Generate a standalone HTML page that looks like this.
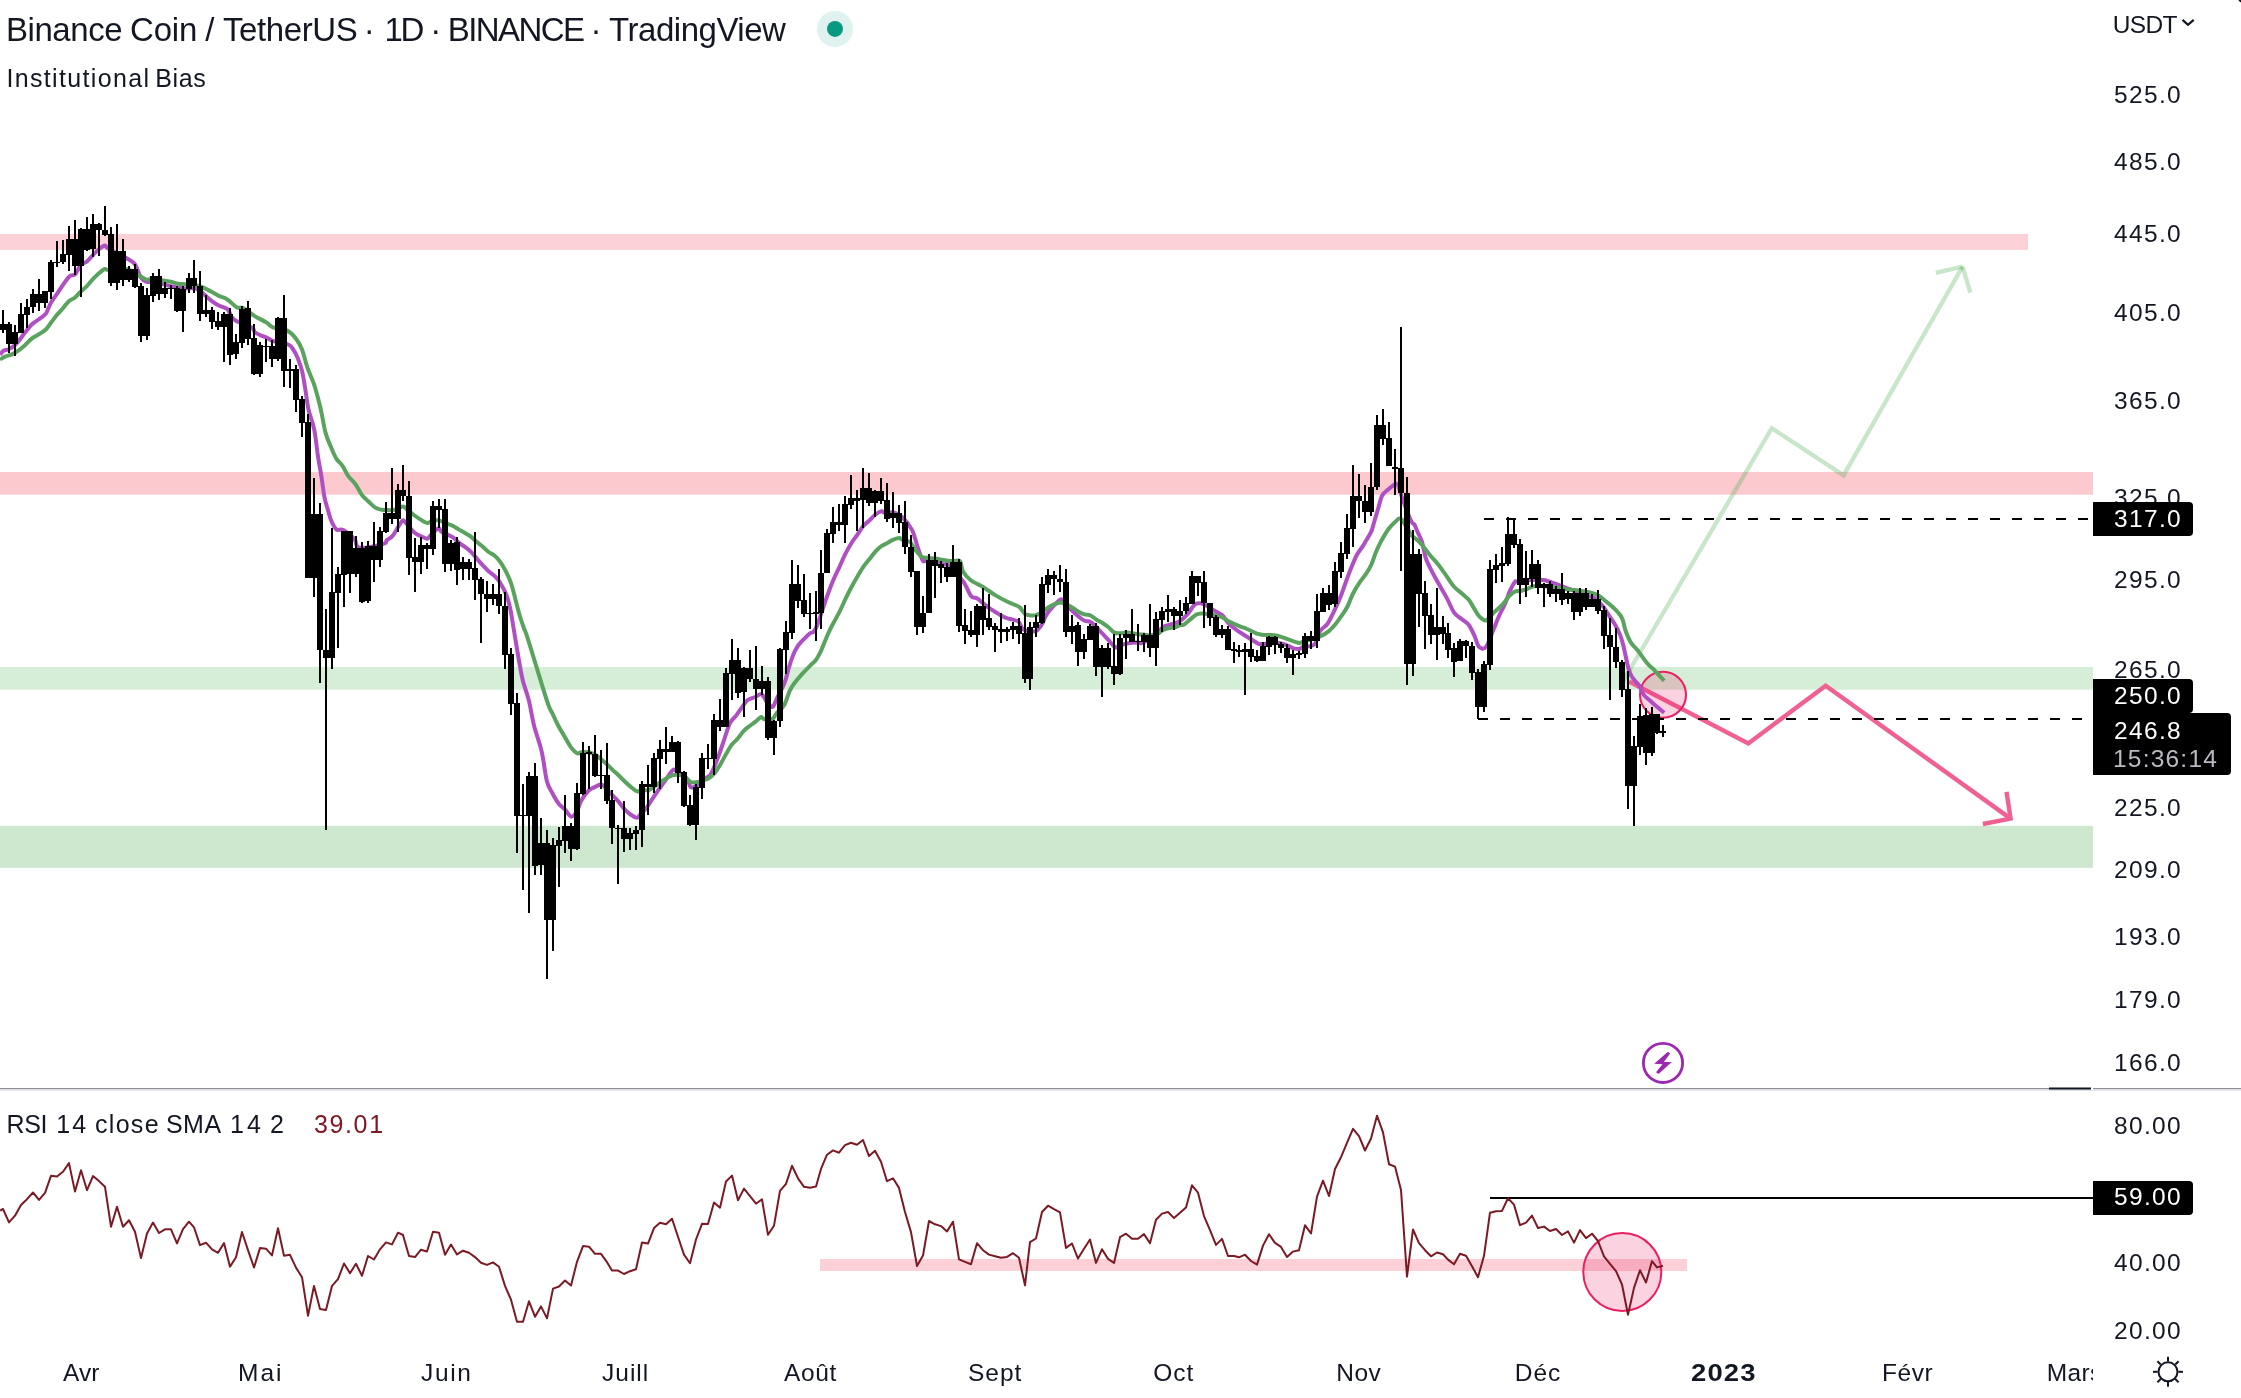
<!DOCTYPE html>
<html><head><meta charset="utf-8"><title>BNBUSDT</title>
<style>
html,body{margin:0;padding:0;background:#fff;}
body{width:2241px;height:1398px;overflow:hidden;position:relative;font-family:"Liberation Sans", sans-serif;color:#131722;}
svg{position:absolute;left:0;top:0;}
.t{position:absolute;white-space:nowrap;line-height:1;}
.ax{font-size:24.5px;letter-spacing:1.35px;left:2114px;}
.tm{font-size:24.5px;letter-spacing:0.5px;transform:translateX(-50%);top:1360px;}
.lb{position:absolute;background:#000;color:#fff;border-radius:0 4px 4px 0;left:2093px;}
</style></head><body>
<svg width="2241" height="1398" viewBox="0 0 2241 1398">

<rect x="0" y="234" width="2028" height="15.9" fill="#fbd0d6"/>
<rect x="0" y="472" width="2093" height="22.7" fill="#fbc9ce"/>
<rect x="0" y="667" width="2093" height="22.7" fill="#d6eed8"/>
<rect x="0" y="825.8" width="2093" height="42" fill="#cde8cf"/>
<rect x="820" y="1259" width="867" height="12" fill="#fbd0d6"/>
<g fill="none" stroke="rgba(76,175,80,0.31)" stroke-width="4.3" stroke-linejoin="miter" stroke-linecap="butt"><polyline points="1623.2,681 1771.8,428.2 1843.6,475.4 1962.2,267.2"/><line x1="1935.8" y1="272.9" x2="1962.6" y2="266.6"/><line x1="1970.4" y1="292.6" x2="1962.4" y2="266.4"/></g>
<g fill="none" stroke="#f06093" stroke-width="4.4" stroke-linejoin="miter"><polyline points="1629,681.5 1748.3,743.4 1825.7,685.7 2010.6,818.6"/><polyline points="2006.5,791.8 2010.6,818.6 1982.9,824"/></g>
<circle cx="1663" cy="694.8" r="23" fill="rgba(233,30,99,0.2)" stroke="#e91e63" stroke-width="2"/>
<circle cx="1622.3" cy="1272" r="39" fill="rgba(233,30,99,0.2)" stroke="#e91e63" stroke-width="2"/>
<line x1="1484" y1="519" x2="2093" y2="519" stroke="#000" stroke-width="2" stroke-dasharray="10 12"/>
<line x1="1478" y1="719" x2="2093" y2="719" stroke="#000" stroke-width="2" stroke-dasharray="10 12"/>
<path d="M0.0,354.6 C0.6,354.0 2.1,351.8 3.4,350.9 C4.7,350.0 6.4,350.2 8.0,349.5 C9.6,348.8 11.5,347.9 13.2,346.6 C14.9,345.3 16.3,343.9 18.3,341.5 C20.3,339.1 22.9,335.2 25.2,332.3 C27.5,329.4 29.7,326.5 32.0,324.3 C34.3,322.1 36.6,321.0 38.9,319.2 C41.2,317.4 44.2,315.6 45.8,313.7 C47.4,311.8 47.6,309.7 48.6,307.7 C49.6,305.7 50.2,303.8 51.5,301.7 C52.8,299.6 53.2,299.2 56.1,295.1 C59.0,291.0 65.5,280.6 68.7,277.1 C71.9,273.7 73.0,276.5 75.1,274.4 C77.1,272.3 79.0,266.8 81.0,264.7 C83.0,262.6 84.9,263.1 86.9,261.5 C88.9,259.9 90.9,257.1 92.9,255.1 C94.9,253.0 96.9,250.8 98.9,249.2 C100.9,247.6 103.2,245.5 104.8,245.4 C106.4,245.3 104.8,246.4 108.4,248.6 C112.0,250.8 122.2,255.7 126.6,258.3 C131.0,260.9 132.5,261.0 134.9,264.2 C137.3,267.4 138.9,274.7 140.9,277.6 C142.9,280.6 144.9,281.2 146.9,281.9 C148.9,282.6 149.9,281.4 152.9,281.9 C155.9,282.3 161.8,283.9 164.8,284.6 C167.8,285.3 167.9,285.6 170.8,286.2 C173.7,286.8 178.4,287.9 182.4,288.3 C186.4,288.7 191.7,287.8 194.8,288.3 C197.9,288.9 198.9,290.2 200.9,291.6 C202.9,293.0 204.9,295.2 206.9,296.9 C208.9,298.6 210.9,300.4 212.9,301.8 C214.9,303.2 216.8,304.5 218.8,305.5 C220.8,306.5 223.3,307.0 224.8,307.7 C226.3,308.4 226.8,308.1 228.0,309.7 C229.2,311.3 230.3,315.3 231.8,317.3 C233.3,319.3 235.8,320.7 237.2,321.5 C238.6,322.3 237.5,321.0 240.0,322.1 C242.5,323.2 249.6,326.2 252.1,327.9 C254.6,329.6 253.4,330.9 254.8,332.2 C256.2,333.4 258.7,334.5 260.7,335.4 C262.7,336.3 264.7,336.7 266.7,337.6 C268.7,338.5 269.1,339.7 272.7,340.8 C276.3,341.9 284.8,343.2 288.1,344.5 C291.4,345.8 290.8,346.1 292.4,348.3 C294.0,350.6 296.1,354.2 297.7,358.0 C299.3,361.8 300.7,365.6 302.0,370.8 C303.3,376.0 304.2,382.7 305.3,389.1 C306.4,395.6 307.0,402.7 308.5,409.5 C310.0,416.3 312.7,422.0 314.3,429.8 C315.9,437.6 316.8,448.8 318.0,456.5 C319.2,464.2 320.2,469.0 321.3,475.8 C322.4,482.6 323.4,491.8 324.5,497.3 C325.6,502.9 326.6,505.4 327.7,509.1 C328.8,512.9 329.5,516.4 330.9,519.8 C332.3,523.2 334.2,527.7 336.3,529.4 C338.4,531.1 340.3,528.4 343.3,530.0 C346.3,531.6 351.8,536.1 354.5,539.1 C357.2,542.1 354.6,546.9 359.4,547.7 C364.2,548.5 378.9,545.1 383.5,543.9 C388.1,542.6 385.2,541.5 386.7,540.2 C388.2,538.9 390.6,538.2 392.6,535.9 C394.6,533.6 396.9,528.8 398.6,526.2 C400.3,523.6 401.6,520.8 402.8,520.3 C404.0,519.8 404.0,520.9 406.0,523.0 C408.0,525.1 411.8,530.4 414.6,532.7 C417.4,535.0 420.6,536.0 422.7,537.0 C424.8,538.0 426.2,538.9 427.5,538.6 C428.8,538.3 428.9,537.0 430.7,535.3 C432.5,533.6 436.4,529.0 438.2,528.4 C440.0,527.8 439.6,530.5 441.4,531.6 C443.2,532.8 446.9,534.3 448.9,535.3 C450.9,536.3 451.4,536.1 453.2,537.5 C455.0,538.9 457.8,541.9 459.7,543.4 C461.6,544.9 462.8,545.3 464.6,546.6 C466.4,547.9 468.6,549.4 470.6,551.4 C472.6,553.4 474.6,556.1 476.6,558.4 C478.6,560.7 480.6,563.0 482.6,565.1 C484.6,567.2 486.6,569.5 488.6,571.3 C490.6,573.1 492.9,574.4 494.7,576.1 C496.5,577.8 497.4,578.3 499.4,581.5 C501.4,584.7 504.7,590.6 506.6,595.4 C508.5,600.2 509.5,605.2 510.6,610.4 C511.7,615.6 512.3,620.6 513.3,626.5 C514.3,632.4 515.4,639.3 516.5,645.8 C517.6,652.2 518.7,659.3 519.8,665.2 C520.9,671.1 521.5,675.3 523.0,681.2 C524.5,687.1 527.1,693.2 528.9,700.6 C530.7,708.0 531.9,717.0 534.0,725.4 C536.1,733.8 539.5,741.9 541.6,751.2 C543.8,760.5 545.1,774.2 546.9,781.2 C548.7,788.2 550.3,789.2 552.3,793.0 C554.3,796.8 556.6,801.0 558.7,803.7 C560.8,806.4 562.6,807.0 564.7,809.1 C566.8,811.2 569.1,816.2 571.1,816.6 C573.1,817.0 575.3,813.9 577.0,811.2 C578.7,808.5 579.3,804.0 581.3,800.5 C583.3,797.0 586.6,792.5 588.8,790.3 C591.0,788.1 592.7,788.1 594.7,787.1 C596.7,786.1 599.1,784.6 600.6,784.4 C602.1,784.2 602.0,784.4 603.8,786.0 C605.6,787.6 608.8,791.5 611.3,794.1 C613.8,796.7 616.3,799.1 618.5,801.6 C620.7,804.1 622.5,807.0 624.5,809.1 C626.5,811.2 628.4,813.1 630.5,814.5 C632.6,815.9 635.4,817.7 637.0,817.7 C638.6,817.7 638.9,815.9 640.3,814.5 C641.7,813.1 643.6,811.6 645.6,809.1 C647.6,806.6 650.0,802.6 652.1,799.4 C654.2,796.2 656.1,793.2 658.5,789.8 C660.9,786.4 664.0,782.3 666.3,779.1 C668.6,775.9 670.9,771.9 672.5,770.5 C674.1,769.1 673.4,769.2 675.7,770.5 C678.0,771.8 683.9,775.2 686.4,778.0 C688.9,780.8 689.1,785.8 690.7,787.1 C692.3,788.4 693.6,787.5 696.1,786.0 C698.6,784.5 703.2,780.0 705.7,778.0 C708.2,776.0 708.9,777.5 711.1,773.7 C713.3,769.9 716.6,760.9 718.8,755.3 C721.0,749.6 722.2,745.2 724.1,739.8 C726.0,734.4 727.9,727.2 730.0,723.1 C732.1,719.0 734.2,718.2 736.5,715.1 C738.8,712.0 741.9,707.1 743.8,704.6 C745.7,702.1 745.9,701.2 747.9,699.9 C749.9,698.6 753.8,697.7 755.9,696.7 C758.0,695.7 759.4,693.9 760.8,694.0 C762.1,694.1 762.9,695.9 764.0,697.3 C765.1,698.7 765.8,701.0 767.2,702.6 C768.6,704.2 771.0,707.6 772.6,706.9 C774.2,706.2 774.9,702.2 776.9,698.3 C778.9,694.4 782.4,688.3 784.4,683.3 C786.4,678.3 787.3,672.9 788.7,668.3 C790.1,663.6 791.6,659.0 793.0,655.4 C794.4,651.8 795.5,649.5 797.3,646.8 C799.1,644.1 801.6,641.5 803.7,639.3 C805.8,637.1 807.7,635.2 809.7,633.4 C811.7,631.6 813.0,634.4 815.7,628.6 C818.5,622.8 823.4,606.6 826.2,598.8 C829.0,591.0 830.5,587.0 832.7,581.6 C834.9,576.2 837.5,571.2 839.6,566.6 C841.7,562.0 843.5,557.6 845.5,553.7 C847.5,549.8 849.5,546.2 851.5,543.0 C853.5,539.8 855.6,537.3 857.6,534.4 C859.6,531.5 861.5,528.1 863.5,525.8 C865.5,523.5 867.5,522.3 869.5,520.4 C871.5,518.5 873.5,516.0 875.5,514.5 C877.5,513.0 879.8,511.6 881.4,511.3 C883.0,511.0 883.1,512.7 885.2,512.9 C887.3,513.1 890.9,511.7 893.8,512.4 C896.7,513.1 899.3,514.2 902.4,517.2 C905.5,520.2 909.8,525.8 912.1,530.1 C914.4,534.4 915.0,538.7 916.4,543.0 C917.8,547.3 919.5,552.8 920.6,555.8 C921.8,558.8 922.3,560.3 923.3,561.2 C924.3,562.1 923.9,560.6 926.5,561.0 C929.1,561.4 935.9,562.7 938.9,563.3 C941.9,563.9 942.6,564.1 944.2,564.4 C945.9,564.7 945.7,562.5 948.8,565.3 C951.9,568.1 959.3,576.0 963.0,581.1 C966.7,586.2 968.8,593.2 971.1,596.1 C973.4,599.0 975.0,597.1 977.0,598.3 C979.0,599.5 981.0,601.5 983.0,603.1 C985.0,604.7 987.0,606.5 989.0,607.9 C991.0,609.3 993.0,610.4 995.0,611.7 C997.0,613.0 998.9,614.4 1000.9,615.5 C1002.9,616.6 1004.9,617.4 1006.9,618.1 C1008.9,618.8 1010.9,619.1 1012.9,619.7 C1014.9,620.3 1017.1,620.3 1018.8,621.9 C1020.5,623.5 1020.6,627.8 1023.1,629.4 C1025.6,631.0 1031.3,631.5 1033.8,631.5 C1036.3,631.5 1036.6,630.8 1038.1,629.4 C1039.6,628.0 1041.3,625.5 1042.7,623.0 C1044.1,620.5 1044.7,617.4 1046.7,614.4 C1048.7,611.4 1052.4,607.2 1054.7,604.7 C1057.0,602.2 1059.2,599.8 1060.7,599.4 C1062.2,599.0 1062.1,600.8 1063.9,602.6 C1065.7,604.4 1069.0,607.8 1071.4,610.1 C1073.9,612.4 1076.4,614.7 1078.6,616.5 C1080.8,618.3 1082.6,619.9 1084.6,620.8 C1086.6,621.7 1088.6,620.8 1090.6,621.9 C1092.6,623.0 1094.5,625.3 1096.5,627.3 C1098.5,629.3 1100.5,631.6 1102.5,633.7 C1104.5,635.8 1106.5,638.0 1108.5,640.1 C1110.5,642.2 1112.9,645.4 1114.4,646.6 C1115.9,647.8 1115.7,647.6 1117.5,647.1 C1119.3,646.6 1122.5,644.6 1125.0,643.9 C1127.5,643.2 1130.1,643.0 1132.3,642.8 C1134.5,642.6 1136.3,642.6 1138.3,642.5 C1140.3,642.4 1140.4,644.6 1144.4,642.1 C1148.4,639.6 1158.3,630.6 1162.3,627.8 C1166.3,625.0 1166.1,625.9 1168.2,625.1 C1170.3,624.4 1172.9,624.1 1175.1,623.3 C1177.3,622.5 1179.1,621.8 1181.3,620.1 C1183.5,618.4 1186.2,615.6 1188.4,613.1 C1190.6,610.6 1192.4,606.5 1194.2,604.9 C1196.0,603.3 1197.4,603.4 1199.1,603.3 C1200.8,603.2 1201.5,603.1 1204.1,604.4 C1206.7,605.6 1211.6,609.0 1214.6,610.8 C1217.6,612.6 1219.9,613.1 1222.1,615.1 C1224.3,617.1 1225.9,620.5 1227.9,622.6 C1229.9,624.8 1231.9,626.4 1233.9,628.0 C1235.9,629.6 1237.9,631.0 1239.9,632.3 C1241.9,633.6 1243.8,634.8 1245.8,636.0 C1247.8,637.2 1249.9,638.5 1251.9,639.8 C1253.9,641.0 1256.2,642.8 1257.9,643.5 C1259.6,644.2 1258.3,644.2 1261.8,644.1 C1265.3,644.0 1274.7,642.7 1279.0,643.0 C1283.3,643.3 1285.2,644.8 1287.7,645.7 C1290.2,646.6 1291.7,647.9 1293.7,648.4 C1295.7,648.9 1298.2,649.1 1299.7,648.9 C1301.2,648.7 1300.6,647.8 1302.6,647.3 C1304.6,646.8 1309.4,646.4 1311.6,645.7 C1313.8,645.0 1314.1,645.5 1315.5,643.0 C1316.9,640.5 1318.2,634.2 1320.2,631.0 C1322.2,627.8 1325.2,627.0 1327.4,624.0 C1329.6,621.0 1331.2,617.0 1333.3,612.8 C1335.3,608.6 1337.7,603.8 1339.7,598.8 C1341.8,593.8 1343.7,587.8 1345.6,582.7 C1347.5,577.6 1349.1,572.9 1351.0,568.3 C1352.9,563.6 1355.0,558.4 1356.9,554.8 C1358.9,551.1 1361.2,548.8 1362.7,546.4 C1364.2,544.0 1364.6,543.2 1366.1,540.6 C1367.6,538.0 1370.1,534.3 1371.5,530.9 C1372.9,527.5 1373.6,523.8 1374.7,520.2 C1375.8,516.6 1376.7,513.5 1377.9,509.4 C1379.2,505.3 1380.4,498.9 1382.2,495.5 C1384.0,492.1 1386.5,491.0 1388.7,489.1 C1390.9,487.2 1393.7,484.8 1395.3,484.2 C1396.9,483.6 1397.0,483.0 1398.3,485.8 C1399.6,488.6 1401.0,495.0 1403.2,500.9 C1405.4,506.8 1409.3,517.3 1411.2,521.2 C1413.1,525.1 1413.3,522.7 1414.4,524.5 C1415.5,526.3 1416.3,529.1 1417.6,532.0 C1418.8,534.9 1420.6,537.3 1421.9,541.6 C1423.2,545.9 1424.3,553.4 1425.7,557.9 C1427.1,562.4 1428.5,564.5 1430.5,568.6 C1432.5,572.7 1435.3,577.8 1438.0,582.6 C1440.7,587.4 1443.9,592.6 1446.6,597.6 C1449.3,602.6 1451.6,609.0 1454.1,612.6 C1456.6,616.2 1459.1,616.9 1461.6,619.0 C1464.1,621.1 1466.9,622.4 1469.0,625.2 C1471.1,628.0 1472.7,632.1 1474.4,635.7 C1476.1,639.3 1477.2,645.2 1479.2,647.0 C1481.2,648.8 1483.7,649.7 1486.1,646.7 C1488.5,643.7 1491.7,633.7 1493.7,629.0 C1495.7,624.3 1496.5,621.8 1498.0,618.3 C1499.5,614.8 1501.6,610.8 1502.8,608.3 C1504.0,605.8 1504.2,605.9 1505.4,603.0 C1506.6,600.1 1508.2,594.7 1509.8,591.2 C1511.4,587.7 1513.6,583.6 1514.9,582.0 C1516.2,580.4 1514.5,581.9 1517.4,581.5 C1520.4,581.1 1528.2,580.2 1532.6,579.9 C1537.0,579.6 1541.1,579.7 1543.6,579.9 C1546.0,580.1 1546.1,580.6 1547.3,581.0 C1548.5,581.4 1549.5,581.6 1550.6,582.0 C1551.7,582.4 1552.1,582.6 1553.7,583.2 C1555.3,583.8 1557.9,584.7 1560.1,585.5 C1562.2,586.3 1561.6,586.1 1566.6,588.0 C1571.6,589.9 1585.5,594.9 1590.2,596.6 C1594.9,598.3 1592.4,596.6 1594.5,598.2 C1596.6,599.8 1600.7,603.5 1603.0,606.2 C1605.3,609.0 1606.4,611.7 1608.4,614.7 C1610.4,617.7 1612.8,620.9 1614.8,624.3 C1616.8,627.7 1618.8,631.5 1620.2,635.1 C1621.6,638.7 1622.1,640.4 1623.4,645.8 C1624.7,651.2 1626.9,662.5 1628.2,667.5 C1629.5,672.5 1630.3,673.9 1631.5,676.1 C1632.7,678.3 1633.8,679.1 1635.2,680.9 C1636.6,682.7 1638.6,684.5 1640.0,686.8 C1641.4,689.1 1642.0,692.5 1643.8,694.9 C1645.6,697.3 1648.8,699.4 1650.8,701.3 C1652.8,703.2 1653.9,704.2 1656.1,706.1 C1658.3,708.0 1662.8,711.7 1664.2,712.8" fill="none" stroke="#b04fc4" stroke-width="4" stroke-linejoin="round" stroke-linecap="butt"/>
<path d="M0.0,359.5 C1.0,359.0 3.8,357.2 5.7,356.4 C7.6,355.6 9.3,355.6 11.4,354.6 C13.5,353.6 16.0,352.2 18.3,350.6 C20.6,349.0 22.9,346.9 25.2,344.9 C27.5,342.8 29.7,340.1 32.0,338.3 C34.3,336.5 36.6,335.8 38.9,334.3 C41.2,332.8 43.7,331.6 45.8,329.5 C47.9,327.4 49.6,324.5 51.5,322.0 C53.4,319.5 55.3,316.9 57.2,314.6 C59.1,312.3 61.0,310.5 62.9,308.3 C64.8,306.1 66.7,303.1 68.6,301.4 C70.5,299.7 72.5,299.5 74.4,298.0 C76.3,296.5 78.0,294.3 80.1,292.3 C82.2,290.3 84.8,288.4 86.9,286.2 C89.0,284.0 90.9,281.3 92.9,279.2 C94.9,277.1 96.9,275.0 98.9,273.3 C100.9,271.6 103.2,269.5 104.8,269.0 C106.4,268.5 104.8,270.1 108.4,270.1 C112.0,270.1 121.2,267.9 126.6,269.0 C132.0,270.1 137.5,274.7 140.9,276.5 C144.3,278.3 144.9,279.4 146.9,279.8 C148.9,280.2 149.9,278.5 152.9,278.7 C155.9,278.9 161.8,280.3 164.8,280.8 C167.8,281.3 168.8,281.2 170.8,281.7 C172.8,282.1 174.8,283.1 176.8,283.5 C178.8,283.9 179.8,283.8 182.8,284.1 C185.8,284.4 191.8,284.7 194.8,285.1 C197.8,285.5 198.9,286.0 200.9,286.7 C202.9,287.4 204.9,288.4 206.9,289.4 C208.9,290.4 210.9,291.5 212.9,292.6 C214.9,293.7 216.8,295.0 218.8,295.9 C220.8,296.8 223.3,297.3 224.8,298.0 C226.3,298.7 227.0,299.3 228.0,300.0 C229.0,300.7 229.4,301.1 230.8,302.3 C232.2,303.5 235.2,306.4 236.7,307.3 C238.2,308.2 238.9,307.6 240.0,307.7 C241.1,307.8 240.5,306.7 243.0,308.1 C245.5,309.5 250.9,313.7 254.8,316.1 C258.7,318.5 263.6,320.7 266.6,322.6 C269.7,324.5 269.5,326.0 273.1,327.4 C276.7,328.8 284.2,329.1 288.1,331.1 C292.0,333.2 294.4,336.6 296.7,339.7 C299.0,342.8 300.2,344.8 302.0,349.4 C303.8,354.0 305.4,361.9 307.4,367.6 C309.4,373.3 311.6,377.1 313.8,383.7 C316.0,390.3 318.3,399.1 320.3,407.3 C322.3,415.5 323.8,426.3 325.6,432.9 C327.4,439.5 329.1,442.5 330.9,446.8 C332.7,451.1 334.3,455.4 336.3,458.6 C338.3,461.8 340.7,463.2 342.7,466.1 C344.7,469.0 346.0,472.8 348.1,475.8 C350.2,478.9 353.3,481.2 355.6,484.4 C357.9,487.6 359.9,492.2 362.0,495.1 C364.1,498.0 366.4,499.4 368.5,501.5 C370.6,503.6 372.8,506.0 374.9,507.4 C377.0,508.8 378.8,509.2 380.9,509.6 C383.0,510.1 385.6,510.1 387.8,510.1 C390.0,510.2 391.7,510.5 394.2,509.9 C396.7,509.3 400.6,506.4 402.8,506.4 C405.0,506.3 405.1,508.1 407.1,509.6 C409.1,511.1 412.0,513.6 414.6,515.5 C417.2,517.4 420.6,519.6 422.7,520.9 C424.8,522.1 426.0,523.0 427.5,523.0 C429.0,523.0 430.0,521.4 431.8,520.9 C433.6,520.4 435.7,519.9 438.2,520.3 C440.7,520.7 444.2,522.6 446.6,523.5 C449.0,524.4 450.6,524.7 452.6,525.7 C454.6,526.7 456.6,528.2 458.6,529.4 C460.6,530.6 462.6,531.5 464.6,532.7 C466.6,533.9 468.6,534.9 470.6,536.4 C472.6,537.9 474.6,540.1 476.6,541.8 C478.6,543.5 480.6,544.9 482.6,546.6 C484.6,548.3 486.6,550.5 488.6,552.0 C490.6,553.5 492.7,554.0 494.7,555.7 C496.7,557.4 498.6,559.5 500.6,562.4 C502.6,565.3 504.8,569.4 506.6,572.9 C508.4,576.4 509.7,579.1 511.2,583.6 C512.7,588.1 514.1,594.3 515.5,599.7 C516.9,605.1 518.4,611.0 519.8,615.8 C521.2,620.6 522.7,624.8 524.1,628.7 C525.5,632.6 524.2,627.4 528.0,639.4 C531.8,651.4 542.9,688.4 546.9,700.7 C550.9,713.0 550.3,708.8 552.3,713.1 C554.3,717.4 556.6,722.6 558.7,726.5 C560.8,730.4 562.7,733.3 564.7,736.7 C566.7,740.1 568.7,744.1 570.7,746.9 C572.8,749.7 575.2,752.4 577.0,753.3 C578.8,754.2 579.3,752.4 581.3,752.2 C583.3,752.0 586.6,751.8 588.8,752.2 C591.0,752.6 592.7,753.3 594.7,754.4 C596.7,755.5 598.6,757.1 600.6,758.7 C602.6,760.3 604.6,762.1 606.6,764.0 C608.6,765.9 610.6,768.0 612.6,769.9 C614.6,771.8 616.5,773.4 618.5,775.3 C620.5,777.2 622.5,779.3 624.5,781.2 C626.5,783.1 628.4,784.9 630.5,786.6 C632.6,788.3 635.0,790.9 637.0,791.4 C639.0,791.9 640.5,790.0 642.4,789.8 C644.3,789.6 646.4,790.8 648.4,790.3 C650.4,789.8 652.3,787.9 654.3,786.6 C656.3,785.3 658.3,783.6 660.3,782.3 C662.3,780.9 664.3,779.7 666.3,778.5 C668.3,777.3 670.2,775.9 672.2,775.3 C674.2,774.7 676.2,774.6 678.2,774.8 C680.2,775.0 682.3,775.2 684.3,776.4 C686.3,777.5 688.3,780.7 690.3,781.7 C692.3,782.7 694.2,782.5 696.2,782.3 C698.2,782.1 700.2,781.3 702.2,780.7 C704.2,780.1 706.2,779.7 708.2,778.5 C710.2,777.3 712.1,776.0 714.1,773.7 C716.1,771.5 718.1,768.1 720.0,765.0 C721.9,761.9 723.8,758.1 725.7,754.8 C727.6,751.5 729.4,747.8 731.4,745.1 C733.4,742.4 735.5,741.1 737.6,738.7 C739.7,736.3 741.7,733.1 743.8,730.9 C745.9,728.7 748.0,727.3 750.0,725.7 C752.0,724.1 754.1,722.8 755.9,721.4 C757.7,720.0 759.4,717.5 760.8,717.1 C762.2,716.7 762.5,718.9 764.5,719.2 C766.5,719.5 770.5,719.8 772.6,718.7 C774.7,717.6 774.9,715.1 776.9,712.8 C778.9,710.5 782.3,708.5 784.4,704.8 C786.5,701.1 787.9,694.6 789.7,690.8 C791.5,687.0 793.1,684.9 795.1,682.2 C797.1,679.5 799.1,677.4 801.5,674.7 C803.9,672.0 807.3,668.5 809.7,666.1 C812.1,663.7 813.8,662.7 815.7,660.2 C817.6,657.7 819.1,654.8 820.9,651.1 C822.6,647.4 824.4,642.3 826.2,638.2 C828.0,634.1 829.4,630.8 831.6,626.4 C833.8,622.0 837.3,616.2 839.6,611.6 C841.9,607.0 843.5,602.9 845.5,598.8 C847.5,594.7 849.5,590.8 851.5,587.0 C853.5,583.2 855.6,579.6 857.6,576.2 C859.6,572.8 861.5,569.5 863.5,566.6 C865.5,563.8 867.5,561.6 869.5,559.1 C871.5,556.6 873.5,553.6 875.5,551.5 C877.5,549.4 879.4,547.6 881.4,546.2 C883.4,544.8 885.4,544.1 887.4,543.0 C889.4,541.9 891.4,540.5 893.4,539.7 C895.4,538.9 897.8,538.1 899.3,538.1 C900.8,538.1 900.6,539.1 902.4,539.7 C904.2,540.3 907.9,540.5 909.9,541.9 C911.9,543.3 912.6,546.1 914.2,548.3 C915.8,550.4 918.1,553.3 919.6,554.8 C921.1,556.3 921.7,556.9 923.3,557.4 C924.9,557.9 927.2,557.8 929.2,558.0 C931.2,558.2 933.2,558.2 935.2,558.5 C937.2,558.8 939.0,559.2 941.1,559.6 C943.2,560.0 945.6,560.5 947.6,560.7 C949.6,560.9 951.2,560.9 953.3,561.0 C955.4,561.1 958.4,559.5 960.0,561.2 C961.6,563.0 961.2,568.4 963.0,571.5 C964.8,574.6 967.2,577.4 970.5,580.0 C973.8,582.6 978.9,584.5 983.0,587.0 C987.1,589.5 991.2,592.7 995.2,595.1 C999.2,597.5 1003.8,599.9 1007.0,601.5 C1010.2,603.1 1012.4,603.7 1014.5,604.7 C1016.6,605.7 1018.2,605.9 1019.9,607.4 C1021.6,608.9 1023.0,612.4 1024.8,613.8 C1026.6,615.1 1028.8,615.3 1030.8,615.5 C1032.8,615.7 1035.0,615.4 1036.7,614.9 C1038.5,614.4 1039.6,613.9 1041.3,612.8 C1043.0,611.7 1044.5,609.9 1046.7,608.5 C1048.9,607.1 1052.4,605.2 1054.7,604.2 C1057.0,603.2 1059.2,602.7 1060.7,602.6 C1062.2,602.5 1062.1,602.9 1063.9,603.6 C1065.7,604.3 1069.0,605.5 1071.4,606.9 C1073.9,608.2 1076.4,610.5 1078.6,611.7 C1080.8,613.0 1082.6,613.8 1084.6,614.4 C1086.6,615.0 1088.6,614.6 1090.6,615.5 C1092.6,616.4 1094.5,618.5 1096.5,619.7 C1098.5,621.0 1100.5,621.7 1102.5,623.0 C1104.5,624.3 1106.5,625.7 1108.5,627.3 C1110.5,628.9 1112.4,631.6 1114.4,632.6 C1116.4,633.6 1118.4,633.2 1120.4,633.2 C1122.4,633.2 1124.4,632.6 1126.4,632.6 C1128.4,632.6 1130.3,632.9 1132.3,633.2 C1134.3,633.5 1136.3,633.9 1138.3,634.2 C1140.3,634.5 1142.4,634.6 1144.4,634.8 C1146.4,635.0 1148.3,635.3 1150.3,635.3 C1152.3,635.3 1154.3,635.6 1156.3,634.8 C1158.3,634.0 1160.3,631.6 1162.3,630.5 C1164.3,629.4 1166.1,628.8 1168.2,628.3 C1170.3,627.8 1173.1,627.8 1175.1,627.3 C1177.1,626.8 1178.8,625.5 1180.2,625.1 C1181.6,624.7 1182.0,625.6 1183.5,624.8 C1185.0,624.0 1186.8,622.1 1189.0,620.4 C1191.2,618.7 1194.3,615.8 1196.4,614.6 C1198.5,613.5 1200.0,613.6 1201.8,613.5 C1203.6,613.4 1205.0,613.7 1207.1,614.0 C1209.2,614.3 1212.1,614.6 1214.6,615.1 C1217.1,615.6 1219.9,616.3 1222.1,617.3 C1224.3,618.3 1225.9,619.9 1227.9,621.0 C1229.9,622.1 1231.9,622.8 1233.9,623.7 C1235.9,624.6 1237.9,625.6 1239.9,626.4 C1241.9,627.2 1243.8,627.7 1245.8,628.5 C1247.8,629.3 1249.9,630.3 1251.9,631.2 C1253.9,632.1 1255.9,633.3 1257.9,633.9 C1259.9,634.5 1261.8,634.8 1263.8,635.0 C1265.8,635.2 1267.8,634.9 1269.8,635.0 C1271.8,635.1 1273.8,635.1 1275.8,635.5 C1277.8,635.9 1279.8,636.5 1281.8,637.1 C1283.8,637.7 1285.7,638.5 1287.7,639.2 C1289.7,639.9 1291.7,640.8 1293.7,641.4 C1295.7,642.0 1298.2,642.9 1299.7,643.0 C1301.2,643.1 1299.2,643.0 1302.6,641.9 C1306.0,640.8 1315.8,638.2 1320.2,636.4 C1324.6,634.6 1326.4,633.1 1329.0,631.0 C1331.6,628.9 1333.5,626.6 1335.8,623.8 C1338.0,621.0 1340.5,617.3 1342.5,614.4 C1344.5,611.5 1345.8,609.9 1347.5,606.5 C1349.2,603.1 1350.8,598.0 1352.8,594.0 C1354.8,590.0 1357.3,586.0 1359.5,582.7 C1361.7,579.4 1363.8,577.2 1365.8,574.2 C1367.8,571.2 1369.8,568.1 1371.4,564.5 C1373.1,560.9 1374.1,556.6 1375.7,552.7 C1377.3,548.9 1378.8,545.4 1381.0,541.4 C1383.2,537.4 1386.3,532.1 1388.7,528.8 C1391.1,525.5 1393.2,523.4 1395.3,521.8 C1397.4,520.2 1398.5,517.0 1401.2,519.1 C1403.9,521.2 1408.6,531.3 1411.2,534.7 C1413.8,538.1 1414.8,537.8 1416.6,539.5 C1418.4,541.2 1419.6,542.1 1421.9,544.8 C1424.2,547.5 1427.8,552.5 1430.5,555.7 C1433.2,559.0 1435.3,560.9 1438.0,564.3 C1440.7,567.7 1443.9,572.4 1446.6,576.1 C1449.3,579.9 1451.6,583.9 1454.1,586.8 C1456.6,589.7 1459.1,591.1 1461.6,593.3 C1464.1,595.5 1466.9,597.4 1469.0,600.0 C1471.1,602.6 1472.6,606.1 1474.4,608.9 C1476.2,611.7 1477.8,615.0 1479.8,616.9 C1481.8,618.8 1483.9,621.0 1486.2,620.3 C1488.5,619.6 1491.2,615.0 1493.7,612.6 C1496.2,610.2 1499.2,607.9 1501.2,605.9 C1503.2,603.9 1504.4,602.3 1505.6,600.8 C1506.8,599.2 1507.5,597.9 1508.6,596.6 C1509.7,595.4 1510.9,594.2 1512.1,593.3 C1513.3,592.4 1514.1,591.6 1515.7,591.2 C1517.3,590.8 1519.6,591.1 1521.5,590.7 C1523.4,590.3 1525.3,589.5 1527.3,588.8 C1529.3,588.1 1531.2,586.8 1533.5,586.3 C1535.8,585.8 1538.0,585.7 1540.8,585.8 C1543.6,585.9 1547.8,586.8 1550.3,587.1 C1552.8,587.4 1554.1,587.2 1555.9,587.4 C1557.7,587.5 1559.0,587.6 1561.0,588.0 C1563.0,588.4 1565.8,589.3 1567.9,589.6 C1570.1,589.9 1571.9,589.7 1573.9,589.9 C1575.9,590.1 1577.9,590.4 1579.9,590.7 C1581.9,591.0 1583.9,591.4 1585.9,591.7 C1587.9,592.1 1589.7,592.2 1591.8,592.8 C1593.9,593.4 1596.2,594.2 1598.4,595.5 C1600.6,596.8 1602.6,598.7 1604.8,600.5 C1607.0,602.3 1609.4,604.1 1611.6,606.1 C1613.8,608.1 1616.3,610.4 1618.1,612.5 C1619.9,614.6 1621.2,616.0 1622.4,619.0 C1623.7,622.0 1624.2,626.9 1625.6,630.8 C1627.0,634.7 1628.9,639.4 1630.9,642.6 C1632.9,645.8 1634.6,646.6 1637.4,650.1 C1640.2,653.6 1645.0,660.7 1647.6,663.8 C1650.2,666.9 1651.1,666.8 1652.9,668.6 C1654.7,670.4 1656.4,672.5 1658.3,674.5 C1660.2,676.5 1663.2,679.7 1664.2,680.7" fill="none" stroke="#5aa35f" stroke-width="4" stroke-linejoin="round" stroke-linecap="butt"/>
<path d="M2.0,310.3h2V333.4h-2zM0.0,324.3h6V329.7h-6zM8.0,322.0h2V352.6h-2zM6.0,324.2h6V344.0h-6zM14.0,325.3h2V355.8h-2zM12.0,332.2h6V344.0h-6zM20.0,303.4h2V333.4h-2zM18.0,314.1h6V332.9h-6zM26.0,299.3h2V327.5h-2zM24.0,306.6h6V314.6h-6zM32.0,289.4h2V312.5h-2zM30.0,294.2h6V306.6h-6zM38.0,279.2h2V311.4h-2zM36.0,294.2h6V302.8h-6zM44.0,290.5h2V307.7h-2zM42.0,291.0h6V302.8h-6zM50.0,260.2h2V298.5h-2zM48.0,262.1h6V291.6h-6zM56.0,241.4h2V266.7h-2zM54.0,261.5h6V263.1h-6zM62.0,240.3h2V263.7h-2zM60.0,254.2h6V262.4h-6zM68.0,226.3h2V270.6h-2zM66.0,239.2h6V254.5h-6zM74.0,220.3h2V274.6h-2zM72.0,239.2h6V265.8h-6zM80.0,228.3h2V296.7h-2zM78.0,229.1h6V265.8h-6zM86.0,217.3h2V251.3h-2zM84.0,229.1h6V249.7h-6zM92.0,214.3h2V257.4h-2zM90.0,224.2h6V248.6h-6zM98.0,223.1h2V255.6h-2zM96.0,224.2h6V229.5h-6zM104.0,206.2h2V235.8h-2zM102.0,229.5h6V234.7h-6zM110.0,227.2h2V285.7h-2zM108.0,234.2h6V283.0h-6zM116.0,224.2h2V289.6h-2zM114.0,251.0h6V283.0h-6zM122.0,239.2h2V285.7h-2zM120.0,251.0h6V279.8h-6zM128.0,266.4h2V282.4h-2zM126.0,269.0h6V279.8h-6zM134.0,264.2h2V287.8h-2zM132.0,269.0h6V286.7h-6zM140.0,283.2h2V341.5h-2zM138.0,286.2h6V335.6h-6zM146.0,288.3h2V339.6h-2zM144.0,295.3h6V335.6h-6zM152.0,273.3h2V301.5h-2zM150.0,276.3h6V295.9h-6zM158.0,269.2h2V299.6h-2zM156.0,276.3h6V293.7h-6zM164.0,282.4h2V297.5h-2zM162.0,288.3h6V293.7h-6zM170.0,284.6h2V298.5h-2zM168.0,288.3h6V289.4h-6zM176.0,286.2h2V312.0h-2zM174.0,288.3h6V311.1h-6zM182.0,286.2h2V331.8h-2zM180.0,289.4h6V310.9h-6zM188.0,273.3h2V292.6h-2zM186.0,278.2h6V289.4h-6zM193.0,260.1h2V292.6h-2zM191.0,278.2h6V286.2h-6zM199.0,271.2h2V320.5h-2zM197.0,286.2h6V313.6h-6zM205.0,295.3h2V316.8h-2zM203.0,310.3h6V313.9h-6zM211.0,307.1h2V328.6h-2zM209.0,310.3h6V321.6h-6zM217.0,312.2h2V329.7h-2zM215.0,321.4h6V326.8h-6zM223.0,312.1h2V361.7h-2zM221.0,314.0h6V326.7h-6zM229.0,308.1h2V364.9h-2zM227.0,314.0h6V354.7h-6zM235.0,334.1h2V358.8h-2zM233.0,342.4h6V353.7h-6zM241.0,306.2h2V347.8h-2zM239.0,309.1h6V342.9h-6zM247.0,301.1h2V344.9h-2zM245.0,308.1h6V338.6h-6zM253.0,324.2h2V374.9h-2zM251.0,338.1h6V374.1h-6zM259.0,342.2h2V377.1h-2zM257.0,345.1h6V373.8h-6zM265.0,339.2h2V361.7h-2zM263.0,345.6h6V347.0h-6zM271.0,340.3h2V366.8h-2zM269.0,346.2h6V359.0h-6zM277.0,317.0h2V361.0h-2zM275.0,318.0h6V359.0h-6zM283.0,295.2h2V386.7h-2zM281.0,318.0h6V370.8h-6zM289.0,359.0h2V387.8h-2zM287.0,369.2h6V370.8h-6zM295.0,365.3h2V411.8h-2zM293.0,369.2h6V399.8h-6zM301.0,396.4h2V436.6h-2zM299.0,399.3h6V422.9h-6zM307.0,414.3h2V577.7h-2zM305.0,422.3h6V577.7h-6zM313.0,477.9h2V596.7h-2zM311.0,514.2h6V577.7h-6zM319.0,503.2h2V682.9h-2zM317.0,514.2h6V649.9h-6zM325.0,609.1h2V830.0h-2zM323.0,650.1h6V657.9h-6zM331.0,528.2h2V668.9h-2zM329.0,592.2h6V657.9h-6zM337.0,567.1h2V647.8h-2zM335.0,573.9h6V592.7h-6zM343.0,531.1h2V606.7h-2zM341.0,531.1h6V574.5h-6zM349.0,531.1h2V592.7h-2zM347.0,531.1h6V573.9h-6zM355.0,536.1h2V576.6h-2zM353.0,547.7h6V573.9h-6zM361.0,542.1h2V602.7h-2zM359.0,547.7h6V601.6h-6zM367.0,541.0h2V602.7h-2zM365.0,546.1h6V601.3h-6zM373.0,522.1h2V581.8h-2zM371.0,546.1h6V559.5h-6zM379.0,527.1h2V566.5h-2zM377.0,531.1h6V559.5h-6zM385.0,502.1h2V533.2h-2zM383.0,513.1h6V531.6h-6zM391.0,468.1h2V523.5h-2zM389.0,513.1h6V519.2h-6zM397.0,484.2h2V531.6h-2zM395.0,490.3h6V519.2h-6zM402.0,465.1h2V500.5h-2zM400.0,490.3h6V496.2h-6zM408.0,481.2h2V574.5h-2zM406.0,496.2h6V557.6h-6zM414.0,538.0h2V591.7h-2zM412.0,557.3h6V561.6h-6zM420.0,537.2h2V573.7h-2zM418.0,545.0h6V561.6h-6zM426.0,543.2h2V568.6h-2zM424.0,544.5h6V549.3h-6zM432.0,501.3h2V554.7h-2zM430.0,506.2h6V549.3h-6zM438.0,499.2h2V527.5h-2zM436.0,506.2h6V509.6h-6zM444.0,499.2h2V571.6h-2zM442.0,509.3h6V564.3h-6zM450.0,540.2h2V570.7h-2zM448.0,543.2h6V564.3h-6zM456.0,537.2h2V584.7h-2zM454.0,542.3h6V569.7h-6zM462.0,557.1h2V579.6h-2zM460.0,562.2h6V569.1h-6zM468.0,559.3h2V579.6h-2zM466.0,562.2h6V568.6h-6zM474.0,532.1h2V599.7h-2zM472.0,568.1h6V579.8h-6zM480.0,577.2h2V642.6h-2zM478.0,579.3h6V593.8h-6zM486.0,581.2h2V611.7h-2zM484.0,593.8h6V598.6h-6zM492.0,584.1h2V604.5h-2zM490.0,594.3h6V598.6h-6zM498.0,569.1h2V613.6h-2zM496.0,594.3h6V605.6h-6zM504.0,592.2h2V668.6h-2zM502.0,605.6h6V654.6h-6zM510.0,648.2h2V714.7h-2zM508.0,654.4h6V703.6h-6zM516.0,693.1h2V852.7h-2zM514.0,703.3h6V815.5h-6zM522.0,784.2h2V889.7h-2zM520.0,815.3h6V816.3h-6zM528.0,772.4h2V912.8h-2zM526.0,776.2h6V816.1h-6zM534.0,763.2h2V874.7h-2zM532.0,776.2h6V865.6h-6zM540.0,818.2h2V874.7h-2zM538.0,843.0h6V865.0h-6zM546.0,830.0h2V978.8h-2zM544.0,843.0h6V919.8h-6zM552.0,838.2h2V950.9h-2zM550.0,845.2h6V919.8h-6zM558.0,827.1h2V886.7h-2zM556.0,840.2h6V845.7h-6zM564.0,795.2h2V852.7h-2zM562.0,826.1h6V840.9h-6zM570.0,823.0h2V860.8h-2zM568.0,826.1h6V848.7h-6zM576.0,783.1h2V849.5h-2zM574.0,793.2h6V848.7h-6zM582.0,742.3h2V794.6h-2zM580.0,753.3h6V793.9h-6zM588.0,746.1h2V789.2h-2zM586.0,752.2h6V754.4h-6zM594.0,735.3h2V776.7h-2zM592.0,754.2h6V775.8h-6zM600.0,750.3h2V788.5h-2zM598.0,775.3h6V776.3h-6zM606.0,743.3h2V803.7h-2zM604.0,775.3h6V800.5h-6zM611.0,790.3h2V843.6h-2zM609.0,800.3h6V828.4h-6zM617.0,825.2h2V883.8h-2zM615.0,828.2h6V829.2h-6zM623.0,801.4h2V851.6h-2zM621.0,828.4h6V838.8h-6zM629.0,828.4h2V849.8h-2zM627.0,833.2h6V838.8h-6zM635.0,826.3h2V849.8h-2zM633.0,829.5h6V833.8h-6zM641.0,781.2h2V846.8h-2zM639.0,784.2h6V829.5h-6zM647.0,765.1h2V814.5h-2zM645.0,783.9h6V787.1h-6zM653.0,753.3h2V792.5h-2zM651.0,758.1h6V787.1h-6zM659.0,740.2h2V788.5h-2zM657.0,748.5h6V758.7h-6zM665.0,727.3h2V763.5h-2zM663.0,748.5h6V751.7h-6zM671.0,736.4h2V752.0h-2zM669.0,742.3h6V751.7h-6zM677.0,741.3h2V782.5h-2zM675.0,742.3h6V772.6h-6zM683.0,771.3h2V806.7h-2zM681.0,772.4h6V805.9h-6zM689.0,795.4h2V825.7h-2zM687.0,805.3h6V824.7h-6zM695.0,784.4h2V839.8h-2zM693.0,787.1h6V824.7h-6zM701.0,753.3h2V799.4h-2zM699.0,758.1h6V787.6h-6zM707.0,744.2h2V768.9h-2zM705.0,757.8h6V758.8h-6zM713.0,714.1h2V774.8h-2zM711.0,720.3h6V758.7h-6zM719.0,699.4h2V730.6h-2zM717.0,720.3h6V726.5h-6zM725.0,668.3h2V726.5h-2zM723.0,673.1h6V726.5h-6zM731.0,639.3h2V699.6h-2zM729.0,659.5h6V673.6h-6zM737.0,648.1h2V697.5h-2zM735.0,659.5h6V692.7h-6zM743.0,667.2h2V716.6h-2zM741.0,668.1h6V691.7h-6zM749.0,650.3h2V681.7h-2zM747.0,668.1h6V678.8h-6zM755.0,646.1h2V709.6h-2zM753.0,678.5h6V688.7h-6zM761.0,666.1h2V694.6h-2zM759.0,681.4h6V688.7h-6zM767.0,677.4h2V739.6h-2zM765.0,681.4h6V737.8h-6zM773.0,720.3h2V754.7h-2zM771.0,721.4h6V737.8h-6zM779.0,648.1h2V726.8h-2zM777.0,649.2h6V721.4h-6zM785.0,621.3h2V673.6h-2zM783.0,632.3h6V649.5h-6zM791.0,560.1h2V638.5h-2zM789.0,584.3h6V632.7h-6zM797.0,565.0h2V607.9h-2zM795.0,584.3h6V600.9h-6zM803.0,574.1h2V616.5h-2zM801.0,600.4h6V613.8h-6zM809.0,593.2h2V629.4h-2zM807.0,613.2h6V614.3h-6zM815.0,591.2h2V640.6h-2zM813.0,612.2h6V614.3h-6zM820.0,550.3h2V628.6h-2zM818.0,573.2h6V613.2h-6zM826.0,529.2h2V573.0h-2zM824.0,533.3h6V573.0h-6zM832.0,507.3h2V542.7h-2zM830.0,522.3h6V533.8h-6zM838.0,504.3h2V530.6h-2zM836.0,522.3h6V524.9h-6zM844.0,496.3h2V542.7h-2zM842.0,504.1h6V524.7h-6zM850.0,475.2h2V508.6h-2zM848.0,498.1h6V504.9h-6zM856.0,490.2h2V530.6h-2zM854.0,498.1h6V500.6h-6zM862.0,467.9h2V527.9h-2zM860.0,488.2h6V500.0h-6zM868.0,473.2h2V505.6h-2zM866.0,488.2h6V502.7h-6zM874.0,490.2h2V516.7h-2zM872.0,490.9h6V502.7h-6zM880.0,478.0h2V503.8h-2zM878.0,490.9h6V501.1h-6zM886.0,483.1h2V521.7h-2zM884.0,500.3h6V518.8h-6zM892.0,492.3h2V527.7h-2zM890.0,512.9h6V518.3h-6zM898.0,505.2h2V532.8h-2zM896.0,512.9h6V522.6h-6zM904.0,501.1h2V553.7h-2zM902.0,522.0h6V547.0h-6zM910.0,535.2h2V576.8h-2zM908.0,547.3h6V571.7h-6zM916.0,570.9h2V634.5h-2zM914.0,571.1h6V627.3h-6zM922.0,596.1h2V632.7h-2zM920.0,612.5h6V627.3h-6zM928.0,554.2h2V612.7h-2zM926.0,560.1h6V612.7h-6zM934.0,552.1h2V597.7h-2zM932.0,560.1h6V565.5h-6zM940.0,561.2h2V582.7h-2zM938.0,564.4h6V567.6h-6zM946.0,563.3h2V581.6h-2zM944.0,566.6h6V576.8h-6zM952.0,545.1h2V576.8h-2zM950.0,562.3h6V576.8h-6zM958.0,559.1h2V631.7h-2zM956.0,562.3h6V625.5h-6zM964.0,609.0h2V643.9h-2zM962.0,625.1h6V630.7h-6zM970.0,610.9h2V636.7h-2zM968.0,629.9h6V634.8h-6zM976.0,604.2h2V646.8h-2zM974.0,606.0h6V634.8h-6zM982.0,588.1h2V634.8h-2zM980.0,606.0h6V619.7h-6zM988.0,594.2h2V629.9h-2zM986.0,618.1h6V626.7h-6zM994.0,623.0h2V651.7h-2zM992.0,626.2h6V629.9h-6zM1000.0,613.3h2V642.8h-2zM998.0,629.2h6V631.5h-6zM1006.0,627.0h2V641.0h-2zM1004.0,629.4h6V631.5h-6zM1012.0,622.1h2V638.8h-2zM1010.0,626.2h6V629.9h-6zM1018.0,618.1h2V643.9h-2zM1016.0,626.2h6V633.7h-6zM1024.0,605.3h2V683.0h-2zM1022.0,633.2h6V678.8h-6zM1029.0,622.1h2V690.0h-2zM1027.0,627.0h6V678.8h-6zM1035.0,615.2h2V636.7h-2zM1033.0,622.4h6V627.8h-6zM1041.0,577.0h2V624.0h-2zM1039.0,584.3h6V623.2h-6zM1047.0,569.1h2V592.9h-2zM1045.0,575.2h6V584.5h-6zM1053.0,571.2h2V594.8h-2zM1051.0,575.2h6V579.0h-6zM1059.0,565.2h2V591.8h-2zM1057.0,579.0h6V582.4h-6zM1065.0,569.1h2V636.7h-2zM1063.0,582.2h6V631.8h-6zM1071.0,615.2h2V643.9h-2zM1069.0,626.2h6V631.8h-6zM1077.0,622.1h2V665.9h-2zM1075.0,625.1h6V651.7h-6zM1083.0,634.2h2V658.9h-2zM1081.0,639.3h6V651.7h-6zM1089.0,624.0h2V639.9h-2zM1087.0,626.2h6V639.9h-6zM1095.0,623.2h2V675.8h-2zM1093.0,626.2h6V666.7h-6zM1101.0,645.0h2V696.8h-2zM1099.0,648.2h6V666.7h-6zM1107.0,643.1h2V668.9h-2zM1105.0,648.2h6V666.7h-6zM1113.0,634.2h2V685.0h-2zM1111.0,666.4h6V673.6h-6zM1119.0,634.2h2V675.0h-2zM1117.0,638.2h6V674.2h-6zM1125.0,630.3h2V658.9h-2zM1123.0,634.2h6V638.0h-6zM1131.0,609.0h2V642.3h-2zM1129.0,634.2h6V641.7h-6zM1137.0,624.0h2V650.9h-2zM1135.0,641.2h6V642.2h-6zM1143.0,633.2h2V651.7h-2zM1141.0,635.3h6V642.1h-6zM1149.0,604.2h2V656.8h-2zM1147.0,635.3h6V647.6h-6zM1155.0,612.2h2V665.9h-2zM1153.0,619.2h6V647.6h-6zM1161.0,607.2h2V631.8h-2zM1159.0,611.2h6V619.7h-6zM1167.0,595.1h2V621.7h-2zM1165.0,609.0h6V612.0h-6zM1173.0,607.2h2V629.6h-2zM1171.0,609.0h6V616.0h-6zM1179.0,600.2h2V624.6h-2zM1177.0,611.2h6V616.0h-6zM1185.0,597.4h2V614.0h-2zM1183.0,603.3h6V611.4h-6zM1191.0,571.1h2V604.2h-2zM1189.0,576.3h6V604.2h-6zM1197.0,576.3h2V595.6h-2zM1195.0,576.3h6V582.9h-6zM1203.0,571.1h2V627.8h-2zM1201.0,582.4h6V603.3h-6zM1209.0,603.1h2V625.8h-2zM1207.0,603.3h6V617.8h-6zM1215.0,615.1h2V636.6h-2zM1213.0,617.0h6V634.6h-6zM1221.0,625.3h2V637.6h-2zM1219.0,629.3h6V634.6h-6zM1227.0,626.4h2V649.7h-2zM1225.0,629.3h6V649.7h-6zM1233.0,642.1h2V662.9h-2zM1231.0,648.9h6V650.5h-6zM1238.0,645.2h2V657.0h-2zM1236.0,649.7h6V651.6h-6zM1244.0,643.0h2V695.0h-2zM1242.0,648.9h6V651.6h-6zM1250.0,633.1h2V661.8h-2zM1248.0,649.2h6V656.7h-6zM1256.0,650.0h2V661.8h-2zM1254.0,656.4h6V661.2h-6zM1262.0,642.1h2V660.7h-2zM1260.0,646.2h6V660.7h-6zM1268.0,636.0h2V654.8h-2zM1266.0,637.1h6V647.3h-6zM1274.0,636.0h2V653.7h-2zM1272.0,637.1h6V645.2h-6zM1280.0,642.1h2V652.7h-2zM1278.0,643.5h6V648.4h-6zM1286.0,644.1h2V662.9h-2zM1284.0,647.8h6V657.5h-6zM1292.0,650.0h2V674.7h-2zM1290.0,654.3h6V657.5h-6zM1298.0,651.1h2V658.6h-2zM1296.0,653.2h6V654.8h-6zM1304.0,633.1h2V657.8h-2zM1302.0,636.4h6V653.7h-6zM1310.0,631.2h2V648.9h-2zM1308.0,636.4h6V641.4h-6zM1316.0,594.2h2V647.8h-2zM1314.0,611.4h6V641.4h-6zM1322.0,588.1h2V611.7h-2zM1320.0,593.1h6V611.7h-6zM1328.0,585.1h2V609.7h-2zM1326.0,593.1h6V604.9h-6zM1334.0,562.3h2V606.7h-2zM1332.0,571.3h6V604.2h-6zM1340.0,542.1h2V577.6h-2zM1338.0,553.1h6V571.7h-6zM1346.0,514.3h2V558.8h-2zM1344.0,528.2h6V553.7h-6zM1352.0,465.2h2V546.6h-2zM1350.0,496.4h6V528.5h-6zM1358.0,474.0h2V517.8h-2zM1356.0,496.4h6V501.4h-6zM1364.0,485.3h2V523.4h-2zM1362.0,501.4h6V511.6h-6zM1370.0,463.3h2V515.9h-2zM1368.0,487.1h6V511.6h-6zM1376.0,415.2h2V489.6h-2zM1374.0,425.2h6V486.9h-6zM1382.0,409.1h2V444.5h-2zM1380.0,425.2h6V438.6h-6zM1388.0,422.3h2V465.7h-2zM1386.0,438.1h6V465.7h-6zM1394.0,449.4h2V494.6h-2zM1392.0,466.5h6V468.7h-6zM1400.0,327.0h2V570.6h-2zM1398.0,468.1h6V492.5h-6zM1406.0,477.3h2V684.7h-2zM1404.0,492.5h6V663.6h-6zM1412.0,530.4h2V675.7h-2zM1410.0,553.9h6V663.6h-6zM1418.0,549.1h2V626.8h-2zM1416.0,554.1h6V593.8h-6zM1424.0,581.3h2V648.5h-2zM1422.0,593.3h6V615.8h-6zM1430.0,604.2h2V643.5h-2zM1428.0,615.3h6V634.6h-6zM1436.0,588.1h2V659.6h-2zM1434.0,627.1h6V634.6h-6zM1442.0,616.4h2V643.5h-2zM1440.0,627.1h6V633.5h-6zM1447.0,623.3h2V657.7h-2zM1445.0,633.2h6V649.6h-6zM1453.0,643.2h2V676.8h-2zM1451.0,648.2h6V661.7h-6zM1459.0,639.2h2V660.7h-2zM1457.0,641.0h6V660.7h-6zM1465.0,640.0h2V657.7h-2zM1463.0,641.0h6V646.4h-6zM1471.0,642.1h2V679.7h-2zM1469.0,646.1h6V672.7h-6zM1477.0,669.1h2V718.8h-2zM1475.0,672.1h6V706.7h-6zM1483.0,661.1h2V711.8h-2zM1481.0,664.2h6V706.7h-6zM1489.0,560.2h2V669.6h-2zM1487.0,569.2h6V664.6h-6zM1495.0,554.2h2V582.6h-2zM1493.0,565.2h6V569.8h-6zM1501.0,547.2h2V581.6h-2zM1499.0,563.3h6V565.8h-6zM1507.0,517.3h2V565.6h-2zM1505.0,534.1h6V563.8h-6zM1513.0,518.1h2V547.6h-2zM1511.0,534.1h6V544.7h-6zM1519.0,539.2h2V603.8h-2zM1517.0,544.2h6V584.7h-6zM1525.0,551.3h2V596.6h-2zM1523.0,578.3h6V584.7h-6zM1531.0,550.2h2V586.7h-2zM1529.0,564.2h6V579.3h-6zM1537.0,560.2h2V593.9h-2zM1535.0,564.2h6V587.7h-6zM1543.0,582.9h2V606.7h-2zM1541.0,584.2h6V587.7h-6zM1549.0,581.4h2V596.6h-2zM1547.0,584.2h6V593.7h-6zM1555.0,586.1h2V601.7h-2zM1553.0,589.4h6V593.7h-6zM1561.0,573.2h2V604.6h-2zM1559.0,589.3h6V599.8h-6zM1567.0,591.2h2V603.9h-2zM1565.0,593.1h6V599.2h-6zM1573.0,591.2h2V619.6h-2zM1571.0,593.1h6V611.6h-6zM1579.0,588.2h2V615.9h-2zM1577.0,593.1h6V611.6h-6zM1585.0,588.2h2V609.7h-2zM1583.0,593.1h6V606.8h-6zM1591.0,594.2h2V606.8h-2zM1589.0,599.2h6V606.8h-6zM1597.0,590.1h2V613.7h-2zM1595.0,599.2h6V610.5h-6zM1603.0,606.1h2V648.5h-2zM1601.0,610.3h6V635.7h-6zM1609.0,618.1h2V699.7h-2zM1607.0,635.3h6V647.4h-6zM1615.0,628.1h2V667.5h-2zM1613.0,647.4h6V661.7h-6zM1621.0,660.3h2V696.7h-2zM1619.0,661.7h6V690.3h-6zM1627.0,671.3h2V808.6h-2zM1625.0,689.2h6V785.8h-6zM1633.0,736.4h2V825.7h-2zM1631.0,746.0h6V785.8h-6zM1639.0,704.4h2V754.9h-2zM1637.0,716.2h6V746.9h-6zM1645.0,708.4h2V764.6h-2zM1643.0,715.1h6V752.8h-6zM1651.0,707.3h2V755.7h-2zM1649.0,714.4h6V752.8h-6zM1656.0,714.4h2V734.4h-2zM1654.0,714.4h6V732.8h-6zM1662.0,725.3h2V736.6h-2zM1660.0,730.7h6V732.5h-6z" fill="#000" shape-rendering="crispEdges"/>
<line x1="1490" y1="1198" x2="2093" y2="1198" stroke="#000" stroke-width="2"/>
<path d="M0.1,1210.6 L3.0,1209.0 L9.0,1222.4 L15.0,1215.7 L21.0,1205.0 L27.0,1199.2 L33.0,1192.5 L39.0,1199.9 L45.0,1192.9 L51.0,1175.8 L57.0,1176.5 L63.0,1171.8 L69.0,1163.1 L75.0,1191.6 L81.0,1170.2 L87.0,1190.2 L93.0,1176.1 L99.0,1181.1 L105.0,1186.8 L111.0,1226.7 L117.0,1206.8 L123.0,1226.7 L129.0,1220.2 L135.0,1231.7 L141.0,1258.1 L147.0,1233.4 L153.0,1222.6 L159.0,1233.0 L165.0,1229.3 L171.0,1229.3 L177.0,1243.4 L183.0,1229.1 L189.0,1221.7 L194.0,1227.3 L200.0,1245.1 L206.0,1242.7 L212.0,1249.4 L218.0,1252.8 L224.0,1243.1 L230.0,1266.8 L236.0,1257.2 L242.0,1232.0 L248.0,1250.1 L254.0,1267.5 L260.0,1248.1 L266.0,1248.7 L272.0,1255.4 L278.0,1228.3 L284.0,1255.8 L290.0,1254.8 L296.0,1267.6 L302.0,1277.2 L308.0,1315.7 L314.0,1285.9 L320.0,1309.0 L326.0,1310.0 L332.0,1285.9 L338.0,1279.2 L344.0,1263.5 L350.0,1273.2 L356.0,1263.8 L362.0,1275.8 L368.0,1256.0 L374.0,1259.5 L380.0,1249.3 L386.0,1242.4 L392.0,1244.4 L398.0,1232.7 L403.0,1235.0 L409.0,1256.0 L415.0,1257.1 L421.0,1249.7 L427.0,1251.5 L433.0,1231.7 L439.0,1232.7 L445.0,1254.8 L451.0,1244.6 L457.0,1254.4 L463.0,1250.7 L469.0,1252.8 L475.0,1257.1 L481.0,1262.7 L487.0,1264.9 L493.0,1262.4 L499.0,1266.7 L505.0,1285.9 L511.0,1299.7 L517.0,1321.8 L523.0,1321.8 L529.0,1301.3 L535.0,1316.7 L541.0,1306.4 L547.0,1318.4 L553.0,1288.6 L559.0,1286.5 L565.0,1280.5 L571.0,1285.5 L577.0,1261.8 L583.0,1246.1 L589.0,1246.7 L595.0,1253.8 L601.0,1253.8 L607.0,1262.2 L612.0,1270.6 L618.0,1270.6 L624.0,1274.0 L630.0,1271.2 L636.0,1269.3 L642.0,1242.5 L648.0,1243.6 L654.0,1228.1 L660.0,1222.7 L666.0,1224.3 L672.0,1218.7 L678.0,1236.8 L684.0,1254.6 L690.0,1263.3 L696.0,1239.5 L702.0,1223.8 L708.0,1224.1 L714.0,1202.6 L720.0,1207.7 L726.0,1181.5 L732.0,1175.6 L738.0,1200.2 L744.0,1188.6 L750.0,1196.2 L756.0,1203.7 L762.0,1199.3 L768.0,1234.8 L774.0,1225.7 L780.0,1190.9 L786.0,1183.9 L792.0,1165.8 L798.0,1178.3 L804.0,1186.8 L810.0,1187.7 L816.0,1186.6 L821.0,1168.9 L827.0,1154.7 L833.0,1150.4 L839.0,1152.7 L845.0,1145.1 L851.0,1142.8 L857.0,1144.8 L863.0,1140.0 L869.0,1156.1 L875.0,1150.7 L881.0,1161.8 L887.0,1181.2 L893.0,1178.3 L899.0,1187.9 L905.0,1212.0 L911.0,1232.1 L917.0,1266.0 L923.0,1255.5 L929.0,1221.0 L935.0,1224.3 L941.0,1226.1 L947.0,1231.4 L953.0,1221.7 L959.0,1259.3 L965.0,1261.8 L971.0,1264.2 L977.0,1243.2 L983.0,1250.2 L989.0,1254.6 L995.0,1256.2 L1001.0,1257.8 L1007.0,1256.9 L1013.0,1253.2 L1019.0,1257.8 L1025.0,1285.4 L1030.0,1242.1 L1036.0,1238.5 L1042.0,1212.0 L1048.0,1205.7 L1054.0,1209.1 L1060.0,1212.3 L1066.0,1247.9 L1072.0,1243.5 L1078.0,1258.6 L1084.0,1248.8 L1090.0,1239.5 L1096.0,1262.9 L1102.0,1249.2 L1108.0,1258.9 L1114.0,1262.9 L1120.0,1237.2 L1126.0,1233.7 L1132.0,1238.8 L1138.0,1238.8 L1144.0,1234.1 L1150.0,1243.2 L1156.0,1219.8 L1162.0,1213.6 L1168.0,1212.0 L1174.0,1218.1 L1180.0,1212.8 L1186.0,1207.4 L1192.0,1185.3 L1198.0,1192.7 L1204.0,1216.1 L1210.0,1230.2 L1216.0,1244.9 L1222.0,1238.9 L1228.0,1256.0 L1234.0,1256.0 L1239.0,1257.3 L1245.0,1254.7 L1251.0,1261.0 L1257.0,1264.6 L1263.0,1245.6 L1269.0,1234.2 L1275.0,1242.9 L1281.0,1246.9 L1287.0,1256.9 L1293.0,1251.6 L1299.0,1250.2 L1305.0,1225.2 L1311.0,1233.5 L1317.0,1196.7 L1323.0,1180.6 L1329.0,1196.0 L1335.0,1169.0 L1341.0,1157.2 L1347.0,1142.9 L1353.0,1128.8 L1359.0,1136.1 L1365.0,1150.5 L1371.0,1138.5 L1377.0,1115.7 L1383.0,1132.4 L1389.0,1164.2 L1395.0,1166.6 L1401.0,1190.0 L1407.0,1276.6 L1413.0,1229.5 L1419.0,1243.2 L1425.0,1250.2 L1431.0,1256.3 L1437.0,1252.5 L1443.0,1254.3 L1448.0,1259.6 L1454.0,1264.3 L1460.0,1253.7 L1466.0,1255.8 L1472.0,1266.2 L1478.0,1277.2 L1484.0,1255.8 L1490.0,1212.7 L1496.0,1211.3 L1502.0,1210.9 L1508.0,1198.2 L1514.0,1204.6 L1520.0,1225.2 L1526.0,1222.7 L1532.0,1215.6 L1538.0,1228.0 L1544.0,1226.6 L1550.0,1231.0 L1556.0,1229.0 L1562.0,1235.0 L1568.0,1231.4 L1574.0,1242.6 L1580.0,1230.1 L1586.0,1238.1 L1592.0,1233.7 L1598.0,1241.0 L1604.0,1256.4 L1610.0,1263.8 L1616.0,1271.2 L1622.0,1284.5 L1628.0,1314.7 L1634.0,1287.9 L1640.0,1270.2 L1646.0,1282.5 L1652.0,1261.1 L1657.0,1267.4 L1663.0,1265.8" fill="none" stroke="#7b1a24" stroke-width="2" stroke-linejoin="round"/>
<rect x="0" y="1088" width="2241" height="1" fill="#8e8e8e"/>
<rect x="0" y="1089" width="2241" height="2" fill="#e0e3eb"/>
<rect x="2091" y="1087" width="2" height="3" fill="#fff"/>
<rect x="2049" y="1087.5" width="42" height="2" fill="#131722"/>
<circle cx="1663" cy="1062.9" r="19.6" fill="none" stroke="#9c27b0" stroke-width="2.8"/>
<polygon points="1667.9,1051.8 1670.1,1053.5 1663.9,1062.1 1671.7,1062.1 1658.6,1073.9 1656,1072.3 1662.5,1064.2 1654.2,1063.7" fill="#9c27b0"/>
<circle cx="835" cy="28.9" r="18" fill="#e0f2ef"/><circle cx="835" cy="28.9" r="8" fill="#089981"/>
<polyline points="2182.5,19.9 2188,24.9 2193.7,19.9" fill="none" stroke="#131722" stroke-width="2.2"/>
<g stroke="#131722" stroke-width="2" fill="none"><circle cx="2168" cy="1371.8" r="9.5"/><line x1="2178.30" y1="1371.80" x2="2183.00" y2="1371.80"/><line x1="2175.28" y1="1379.08" x2="2178.61" y2="1382.41"/><line x1="2168.00" y1="1382.10" x2="2168.00" y2="1386.80"/><line x1="2160.72" y1="1379.08" x2="2157.39" y2="1382.41"/><line x1="2157.70" y1="1371.80" x2="2153.00" y2="1371.80"/><line x1="2160.72" y1="1364.52" x2="2157.39" y2="1361.19"/><line x1="2168.00" y1="1361.50" x2="2168.00" y2="1356.80"/><line x1="2175.28" y1="1364.52" x2="2178.61" y2="1361.19"/></g>
<circle cx="2243" cy="-2" r="5" fill="#131722"/>
</svg>
<div id="txt" style="position:absolute;left:0;top:0;width:2241px;height:1398px;will-change:transform;">
<div id="title"><span class="t" style="left:5.9px;top:13px;font-size:33px;letter-spacing:-0.42px;">Binance</span><span class="t" style="left:130.1px;top:13px;font-size:33px;letter-spacing:-0.23px;">Coin</span><span class="t" style="left:205.3px;top:13px;font-size:33px;letter-spacing:0.0px;">/</span><span class="t" style="left:223.0px;top:13px;font-size:33px;letter-spacing:-0.41px;">TetherUS</span><span class="t" style="left:363.7px;top:13px;font-size:33px;letter-spacing:0.0px;">·</span><span class="t" style="left:384.5px;top:13px;font-size:33px;letter-spacing:-2.4px;">1D</span><span class="t" style="left:430.3px;top:13px;font-size:33px;letter-spacing:0.0px;">·</span><span class="t" style="left:447.8px;top:13px;font-size:33px;letter-spacing:-1.58px;">BINANCE</span><span class="t" style="left:590.6px;top:13px;font-size:33px;letter-spacing:0.0px;">·</span><span class="t" style="left:609.1px;top:13px;font-size:33px;letter-spacing:-0.48px;">TradingView</span></div>
<div id="sub"><span class="t" style="left:6.4px;top:66px;font-size:25px;letter-spacing:1.35px;">Institutional</span><span class="t" style="left:155.2px;top:66px;font-size:25px;letter-spacing:0.67px;">Bias</span></div>
<div id="rsil"><span class="t" style="left:6.4px;top:1112px;font-size:25px;letter-spacing:-0.3px;">RSI</span><span class="t" style="left:56.2px;top:1112px;font-size:25px;letter-spacing:2.1px;">14</span><span class="t" style="left:95.0px;top:1112px;font-size:25px;letter-spacing:1.3px;">close</span><span class="t" style="left:166.0px;top:1112px;font-size:25px;letter-spacing:0.45px;">SMA</span><span class="t" style="left:229.9px;top:1112px;font-size:25px;letter-spacing:3.1px;">14</span><span class="t" style="left:270.0px;top:1112px;font-size:25px;letter-spacing:0.0px;">2</span></div>
<span class="t" style="left:313.9px;top:1112px;font-size:25px;font-weight:normal;letter-spacing:1.65px;color:#801922;">39.01</span>
<span class="t" style="left:2112.7px;top:13px;font-size:24.5px;font-weight:normal;letter-spacing:-0.6px;">USDT</span>
<div class="t ax" style="top:83.0px;">525.0</div>
<div class="t ax" style="top:149.6px;">485.0</div>
<div class="t ax" style="top:222.0px;">445.0</div>
<div class="t ax" style="top:301.2px;">405.0</div>
<div class="t ax" style="top:388.7px;">365.0</div>
<div class="t ax" style="top:486.3px;">325.0</div>
<div class="t ax" style="top:567.8px;">295.0</div>
<div class="t ax" style="top:658.0px;">265.0</div>
<div class="t ax" style="top:795.6px;">225.0</div>
<div class="t ax" style="top:857.6px;">209.0</div>
<div class="t ax" style="top:924.6px;">193.0</div>
<div class="t ax" style="top:987.9px;">179.0</div>
<div class="t ax" style="top:1051.3px;">166.0</div>
<div class="t ax" style="top:1113.9px;">80.00</div>
<div class="t ax" style="top:1250.9px;">40.00</div>
<div class="t ax" style="top:1319.4px;">20.00</div>
<div class="lb" style="top:502px;width:100px;height:34px;"></div><div class="t ax" style="top:506.5px;color:#fff;">317.0</div>
<div class="lb" style="top:679px;width:100px;height:34px;"></div><div class="t ax" style="top:684px;color:#fff;">250.0</div>
<div class="lb" style="top:713px;width:137.5px;height:62px;"></div><div class="t ax" style="top:718.5px;color:#fff;">246.8</div><span class="t" style="left:2113.0px;top:747px;font-size:24.5px;font-weight:normal;letter-spacing:1.21px;color:#b9bbc2;">15:36:14</span>
<div class="lb" style="top:1181px;width:100px;height:34px;"></div><div class="t ax" style="top:1185px;color:#fff;">59.00</div>
<div style="position:absolute;left:0;top:1340px;width:2093px;height:58px;overflow:hidden;">
<span class="t" style="left:63.0px;top:21px;font-size:24.5px;font-weight:normal;letter-spacing:0.0px;">Avr</span>
<span class="t" style="left:238.0px;top:21px;font-size:24.5px;font-weight:normal;letter-spacing:2.0px;">Mai</span>
<span class="t" style="left:421.0px;top:21px;font-size:24.5px;font-weight:normal;letter-spacing:1.67px;">Juin</span>
<span class="t" style="left:602.0px;top:21px;font-size:24.5px;font-weight:normal;letter-spacing:1.0px;">Juill</span>
<span class="t" style="left:784.0px;top:21px;font-size:24.5px;font-weight:normal;letter-spacing:0.67px;">Août</span>
<span class="t" style="left:968.0px;top:21px;font-size:24.5px;font-weight:normal;letter-spacing:1.0px;">Sept</span>
<span class="t" style="left:1153.3px;top:21px;font-size:24.5px;font-weight:normal;letter-spacing:1.0px;">Oct</span>
<span class="t" style="left:1336.3px;top:21px;font-size:24.5px;font-weight:normal;letter-spacing:0.4px;">Nov</span>
<span class="t" style="left:1514.7px;top:21px;font-size:24.5px;font-weight:normal;letter-spacing:1.05px;">Déc</span>
<span class="t" style="left:1691.0px;top:21px;font-size:24.5px;font-weight:bold;letter-spacing:1.05px;transform:scaleX(1.12);transform-origin:left center;">2023</span>
<span class="t" style="left:1882.0px;top:21px;font-size:24.5px;font-weight:normal;letter-spacing:0.53px;">Févr</span>
<span class="t" style="left:2046.8px;top:21px;font-size:24.5px;font-weight:normal;letter-spacing:0.35px;">Mars</span>
</div>
</div></body></html>
